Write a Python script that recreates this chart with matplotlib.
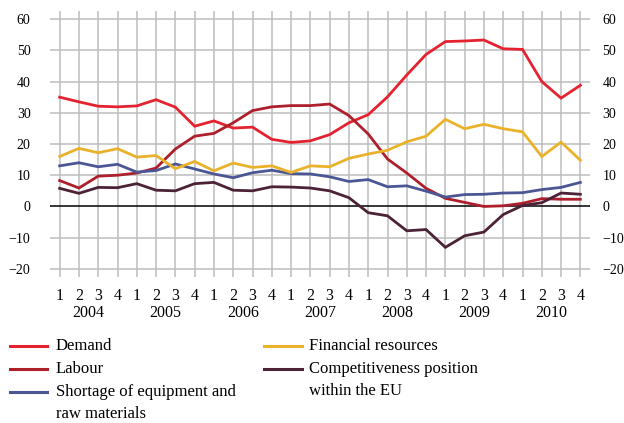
import matplotlib
matplotlib.use("Agg")
import matplotlib.pyplot as plt
from matplotlib.lines import Line2D
import matplotlib.transforms as mtransforms

plt.rcParams['font.family'] = ['Liberation Serif', 'DejaVu Serif']

quarters = ["1", "2", "3", "4"] * 7
years = ["2004", "2005", "2006", "2007", "2008", "2009", "2010"]

demand = [35.0, 33.5, 32.1, 31.9, 32.2, 34.2, 31.8, 25.7, 27.4, 25.1, 25.4, 21.5, 20.5, 21.0,
          23.0, 26.8, 29.4, 35.1, 42.1, 48.7, 52.8, 53.0, 53.3, 50.5, 50.3, 40.0, 34.7, 38.8]
labour = [8.3, 5.9, 9.7, 10.0, 10.7, 12.3, 18.4, 22.5, 23.4, 26.8, 30.7, 31.9, 32.3, 32.3,
          32.8, 29.1, 23.2, 15.2, 10.7, 5.8, 2.6, 1.3, 0.0, 0.2, 1.0, 2.5, 2.3, 2.3]
shortage = [13.0, 14.0, 12.7, 13.5, 11.0, 11.5, 13.6, 12.0, 10.4, 9.2, 10.8, 11.6, 10.5, 10.4,
            9.5, 8.0, 8.6, 6.3, 6.6, 4.9, 3.0, 3.8, 3.9, 4.3, 4.4, 5.4, 6.1, 7.7]
financial = [16.0, 18.6, 17.2, 18.5, 15.8, 16.3, 12.1, 14.4, 11.4, 13.9, 12.5, 13.0, 10.9, 13.0,
             12.7, 15.4, 16.8, 18.0, 20.7, 22.5, 27.9, 24.9, 26.3, 24.9, 23.9, 16.0, 20.6, 14.8]
competitiveness = [5.8, 4.2, 6.1, 6.0, 7.3, 5.2, 5.0, 7.3, 7.7, 5.2, 5.0, 6.3, 6.2, 5.9,
                   5.0, 2.8, -2.0, -3.0, -7.8, -7.4, -13.1, -9.4, -8.2, -2.6, 0.3, 1.2, 4.3, 3.9]

series_labels = ["Demand", "Labour", "Shortage of equipment and\nraw materials",
                 "Financial resources", "Competitiveness position\nwithin the EU"]
series_values = [demand, labour, shortage, financial, competitiveness]
series_colors = ["#E52330", "#AE1F2C", "#4A5794", "#EAB22A", "#4B2236"]

yticks = [-20, -10, 0, 10, 20, 30, 40, 50, 60]
ytick_labels = [str(v).replace("-", "\u2212") for v in yticks]

fig = plt.figure(figsize=(6.24, 4.23), dpi=100)
W, H = 624, 423
ax = fig.add_axes([50 / W, 1 - 277 / H, 540 / W, 266 / H])

x = list(range(len(demand)))
ax.set_xlim(-0.5, len(demand) - 0.5)
ax.set_ylim(-22.6, 62.6)

# grid
for xi in x:
    ax.axvline(xi, color="#BDBDBD", lw=1.1, zorder=0)
for yv in yticks:
    if yv == 0:
        ax.axhline(yv, color="black", lw=1.1, zorder=1)
    else:
        ax.axhline(yv, color="#BDBDBD", lw=1.1, zorder=0)

for vals, col in zip(series_values, series_colors):
    ax.plot(x, vals, color=col, lw=2.0, zorder=3, solid_joinstyle="miter")

for s in ax.spines.values():
    s.set_visible(False)

ax.set_yticks(yticks)
ax.set_yticklabels(ytick_labels)
ax.tick_params(axis="y", length=0, pad=14, labelsize=10)
ax.set_xticks(x)
ax.set_xticklabels(quarters)
ax.tick_params(axis="x", length=0, pad=8, labelsize=11.5)

# right-hand axis labels
ax2 = ax.twinx()
ax2.set_ylim(ax.get_ylim())
ax2.set_yticks(yticks)
ax2.set_yticklabels(ytick_labels)
ax2.tick_params(axis="y", length=0, pad=9, labelsize=10)
for s in ax2.spines.values():
    s.set_visible(False)

trans = mtransforms.blended_transform_factory(ax.transData, ax.transAxes)
for k, yr in enumerate(years):
    ax.text(4 * k + 1.5, -(313 - 277) / 266, yr, transform=trans, ha="center",
            va="center", fontsize=11.5)

# legend (manual)
col_x = [(10, 47, 56), (264, 302, 309)]
rows = [[0, 1, 2], [3, 4]]
row_y = [345.5, 368.5, 391.5]
line_step = 22.5
for c, idxs in enumerate(rows):
    x0, x1, xt = col_x[c]
    for r, si in enumerate(idxs):
        yc = row_y[r]
        fig.add_artist(Line2D([x0 / W, x1 / W], [1 - yc / H, 1 - yc / H],
                              color=series_colors[si], lw=2.2, transform=fig.transFigure))
        for li, line in enumerate(series_labels[si].split("\n")):
            fig.text(xt / W, 1 - (yc + li * line_step) / H, line, ha="left", va="center",
                     fontsize=12)

fig.savefig("out.png", dpi=100)
